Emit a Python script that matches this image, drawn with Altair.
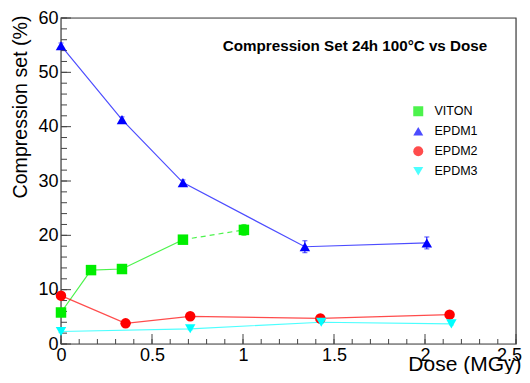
import altair as alt
import pandas as pd
import numpy as np

series_order = ["VITON", "EPDM1", "EPDM2", "EPDM3"]
marker_colors = ["#00ee00", "#0000ff", "#ff0000", "#00ffff"]
shapes = ["square", "triangle-up", "circle", "triangle-down"]

viton_dose = [0.0, 0.165, 0.335, 0.67, 1.005]
viton_cs = [5.8, 13.6, 13.8, 19.2, 21.0]
viton_err = [0.3, 0.3, 0.3, 0.4, 1.0]

epdm1_dose = [0.0, 0.335, 0.67, 1.34, 2.01]
epdm1_cs = [54.9, 41.3, 29.7, 17.9, 18.6]
epdm1_err = [0.5, 0.5, 0.5, 1.1, 1.1]

epdm2_dose = [0.0, 0.355, 0.71, 1.425, 2.135]
epdm2_cs = [8.9, 3.8, 5.1, 4.7, 5.4]
epdm2_err = [0.3, 0.3, 0.3, 0.3, 0.3]

epdm3_dose = [0.0, 0.71, 1.43, 2.145]
epdm3_cs = [2.3, 2.8, 4.0, 3.7]
epdm3_err = [0.2, 0.2, 0.2, 0.2]

x_major = [0, 0.5, 1.0, 1.5, 2.0, 2.5]
x_minor = [round(v, 1) for v in np.arange(0, 2.51, 0.1)]
y_major = [0, 10, 20, 30, 40, 50, 60]
y_minor = list(range(0, 61, 2))

title_text = "Compression Set 24h 100°C vs Dose"

frames = []
for name, d, c, e in [("VITON", viton_dose, viton_cs, viton_err),
                      ("EPDM1", epdm1_dose, epdm1_cs, epdm1_err),
                      ("EPDM2", epdm2_dose, epdm2_cs, epdm2_err),
                      ("EPDM3", epdm3_dose, epdm3_cs, epdm3_err)]:
    frames.append(pd.DataFrame({"series": name, "dose": d, "cs": c, "err": e}))
df = pd.concat(frames, ignore_index=True)
df["lo"] = df["cs"] - df["err"]
df["hi"] = df["cs"] + df["err"]

solid = pd.concat([
    df[df.series == "VITON"].iloc[:4],
    df[df.series != "VITON"],
], ignore_index=True)
dashed = df[df.series == "VITON"].iloc[3:5]

W, H = 455, 326
FONT = "Liberation Sans"
FRAME = "#444"

xs = alt.Scale(domain=[0, 2.5], nice=False, zero=False)
ys = alt.Scale(domain=[0, 60], nice=False, zero=False)
color_scale = alt.Scale(domain=series_order, range=marker_colors)
shape_scale = alt.Scale(domain=series_order, range=shapes)

AX = alt.Axis(values=x_major, ticks=False, domain=False, grid=False,
              labelFontSize=18, labelFont=FONT, labelColor="#000",
              labelPadding=2, labelExpr="format(datum.value, '~g')",
              labelOffset={"condition": {"test": "datum.value >= 2.5", "value": -7}, "value": 0},
              labelFlush=False, labelOverlap=False,
              title="Dose (MGy)", titleFontSize=21, titleFont=FONT, titleFontWeight="normal",
              titleColor="#000", titleAnchor="end", titleAlign="right",
              titleX=W + 5, titleY=26, titleBaseline="alphabetic")
AY = alt.Axis(values=y_major, ticks=False, domain=False, grid=False,
              labelFontSize=18, labelFont=FONT, labelColor="#000",
              labelPadding=3, labelOverlap=False, labelFlush=False,
              title="Compression set (%)", titleFontSize=19.6, titleFont=FONT,
              titleFontWeight="normal", titleColor="#000",
              titleAngle=270, titleAlign="right", titleBaseline="middle",
              titleX=-41, titleY=-3)
LEG = alt.Legend(orient="none", legendX=351, legendY=87, title=None,
                 labelFontSize=12.5, labelFont=FONT, labelColor="#000",
                 symbolSize=100, symbolStrokeWidth=0, rowPadding=7,
                 labelOffset=10, padding=0)


def X(f):
    return alt.X(f, scale=xs, axis=AX, title="Dose (MGy)")


def Y(f):
    return alt.Y(f, scale=ys, axis=AY, title="Compression set (%)")


def C():
    return alt.Color("series:N", scale=color_scale, legend=LEG, title=None)


lines = alt.Chart(solid).mark_line(strokeWidth=1.2, strokeOpacity=0.7).encode(
    x=X("dose:Q"), y=Y("cs:Q"), color=C(), detail="series:N",
)

dash_line = alt.Chart(dashed).mark_line(strokeWidth=1.2, strokeOpacity=0.7, strokeDash=[5, 4]).encode(
    x=X("dose:Q"), y=Y("cs:Q"), color=C(),
)

errbars = alt.Chart(df).mark_rule(strokeWidth=1).encode(
    x=X("dose:Q"), y=Y("lo:Q"), y2="hi:Q", color=C(),
)
caps_hi = alt.Chart(df).mark_tick(orient="horizontal", size=5, thickness=1).encode(
    x=X("dose:Q"), y=Y("hi:Q"), color=C(),
)
caps_lo = alt.Chart(df).mark_tick(orient="horizontal", size=5, thickness=1).encode(
    x=X("dose:Q"), y=Y("lo:Q"), color=C(),
)

points = alt.Chart(df).mark_point(filled=True, opacity=1, size=110).encode(
    x=X("dose:Q"), y=Y("cs:Q"), color=C(),
    shape=alt.Shape("series:N", scale=shape_scale, legend=LEG, title=None),
)

xmaj = alt.Chart(pd.DataFrame({"v": x_major})).mark_rule(color=FRAME, strokeWidth=1).encode(
    x=X("v:Q"), y=alt.value(H), y2=alt.value(H - 10))
xmin = alt.Chart(pd.DataFrame({"v": x_minor})).mark_rule(color=FRAME, strokeWidth=1).encode(
    x=X("v:Q"), y=alt.value(H), y2=alt.value(H - 5))
ymaj = alt.Chart(pd.DataFrame({"v": y_major})).mark_rule(color=FRAME, strokeWidth=1).encode(
    y=Y("v:Q"), x=alt.value(0), x2=alt.value(10))
ymin = alt.Chart(pd.DataFrame({"v": y_minor})).mark_rule(color=FRAME, strokeWidth=1).encode(
    y=Y("v:Q"), x=alt.value(0), x2=alt.value(6))

frame = alt.Chart(pd.DataFrame({"f": [0]})).mark_rect(fill=None, stroke=FRAME, strokeWidth=1.2).encode(
    x=alt.value(0), x2=alt.value(W), y=alt.value(0), y2=alt.value(H))

title = alt.Chart(pd.DataFrame({"t": [title_text]})).mark_text(
    font=FONT, fontSize=15.2, fontWeight="bold", color="#000", align="center", baseline="alphabetic"
).encode(text="t:N", x=alt.value(294), y=alt.value(33))

chart = alt.layer(frame, xmin, xmaj, ymin, ymaj, lines, dash_line, errbars, caps_hi, caps_lo, points, title).properties(
    width=W, height=H,
    autosize=alt.AutoSizeParams(type="none"),
    padding={"left": 53, "top": 10, "right": 6, "bottom": 30},
).configure_view(stroke=None).configure(background="white")

chart.save("out.html", embed_options={"renderer": "svg", "actions": False})
